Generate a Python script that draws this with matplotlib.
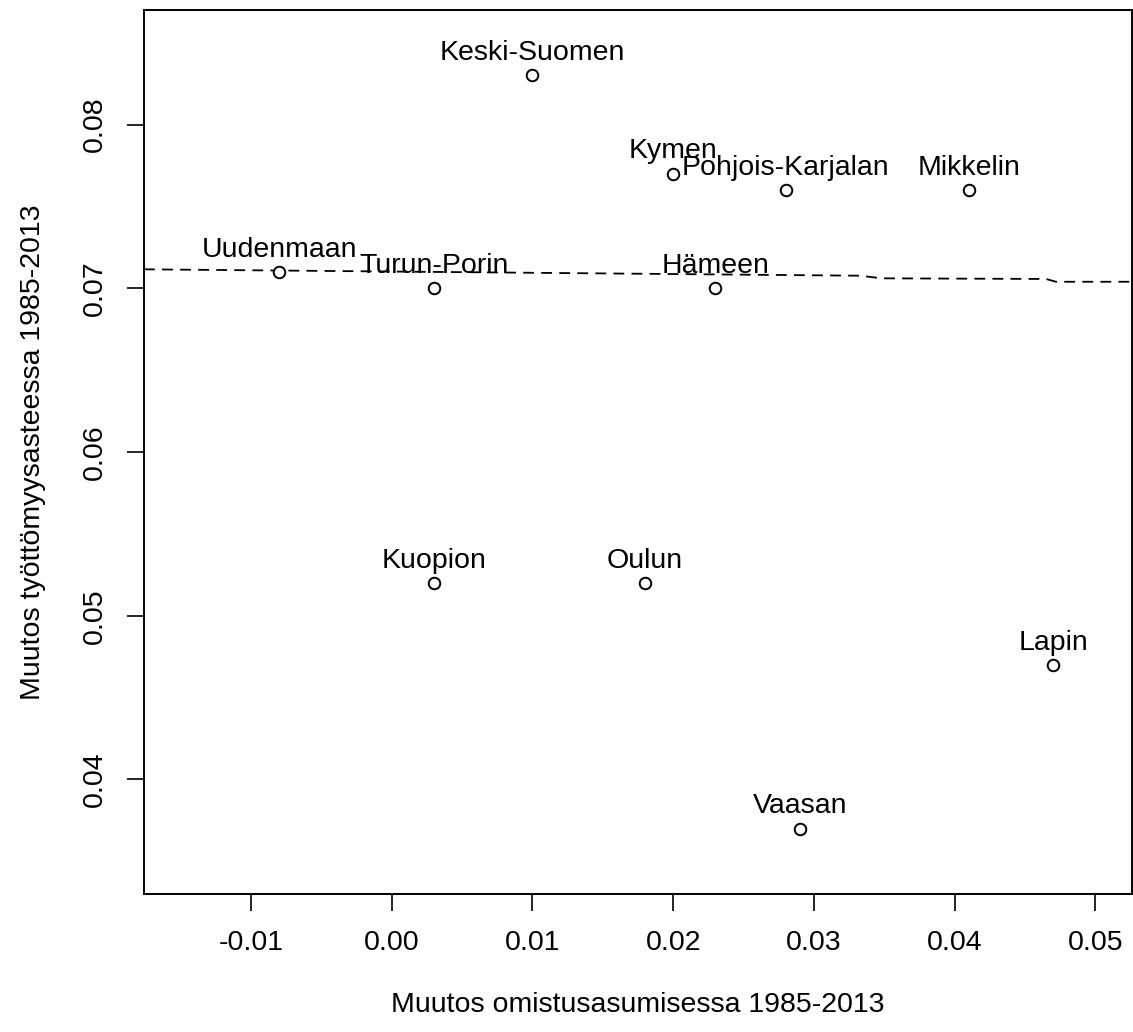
import matplotlib
matplotlib.use("Agg")
import matplotlib.pyplot as plt

plt.rcParams['font.family'] = ['Liberation Sans', 'DejaVu Sans']

# Regions: change in home ownership vs change in unemployment rate, 1985-2013
regions = ["Uudenmaan", "Turun-Porin", "Hämeen", "Kymen", "Mikkelin",
           "Pohjois-Karjalan", "Kuopion", "Keski-Suomen", "Vaasan", "Oulun", "Lapin"]
ownership_change = [-0.008, 0.003, 0.023, 0.020, 0.041,
                    0.028, 0.003, 0.010, 0.029, 0.018, 0.047]
unemployment_change = [0.071, 0.070, 0.070, 0.077, 0.076,
                       0.076, 0.052, 0.083, 0.037, 0.052, 0.047]

# Smoothed trend across the x range
trend_x = [-0.0176, 0.0333, 0.0348, 0.0465, 0.0472, 0.0526]
trend_y = [0.07116, 0.07077, 0.07061, 0.07057, 0.07040, 0.07040]

xticks = [-0.01, 0.00, 0.01, 0.02, 0.03, 0.04, 0.05]
yticks = [0.04, 0.05, 0.06, 0.07, 0.08]

fig = plt.figure(figsize=(11.33, 10.32), dpi=100)
ax = fig.add_axes([0.1271, 0.1337, 0.8720, 0.8566])

ax.plot(ownership_change, unemployment_change, linestyle='none', marker='o',
        markersize=8.3, markerfacecolor='white', markeredgecolor='black',
        markeredgewidth=1.4, zorder=3)

ax.plot(trend_x, trend_y, color='black', linewidth=1.3, linestyle=(0, (6, 4)), zorder=2)

for name, x, y in zip(regions, ownership_change, unemployment_change):
    ax.annotate(name, (x, y), xytext=(0, 11), textcoords='offset points',
                ha='center', va='baseline', fontsize=20.5, zorder=4)

ax.set_xlim(-0.0176, 0.0526)
ax.set_ylim(0.033, 0.087)
ax.set_xticks(xticks)
ax.set_xticklabels([f"{v:.2f}" for v in xticks])
ax.set_yticks(yticks)
ax.set_yticklabels([f"{v:.2f}" for v in yticks], rotation=90, va='center')

for s in ax.spines.values():
    s.set_linewidth(1.4)
ax.tick_params(axis='both', length=12, width=1.2, labelsize=20.5, pad=14)

ax.set_xlabel("Muutos omistusasumisessa 1985-2013", fontsize=20.5, labelpad=26)
ax.set_ylabel("Muutos työttömyysasteessa 1985-2013", fontsize=20.5, labelpad=26)

fig.savefig("out.png", dpi=100)
